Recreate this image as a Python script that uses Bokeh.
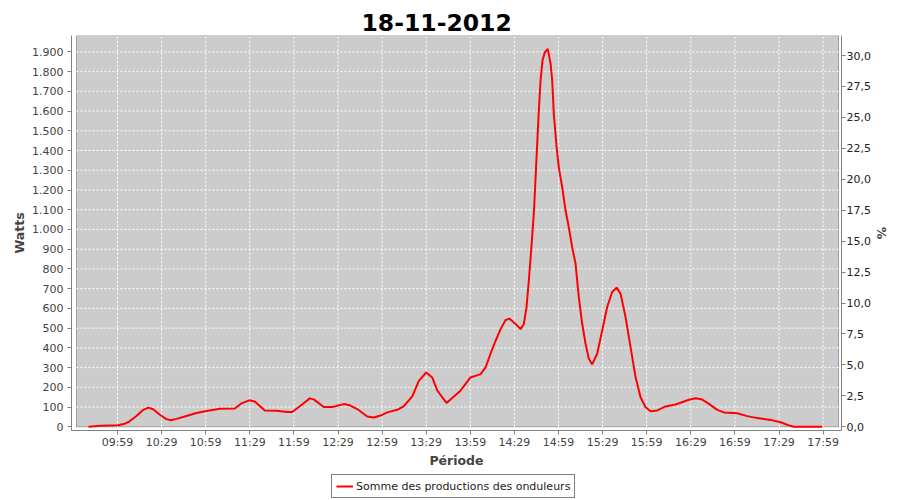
from bokeh.plotting import figure
from bokeh.layouts import column
from bokeh.models import (Range1d, LinearAxis, FixedTicker, Legend, LegendItem,
                          BoxAnnotation, ColumnDataSource)
from bokeh.embed import file_html
from bokeh.resources import INLINE

title_text = "18-11-2012"
series_name = "Somme des productions des onduleurs"
x_title = "Période"
y_title = "Watts"
y2_title = "%"

# time in minutes since midnight, production in watts
minutes = [579.3, 587.4, 599.5, 603.8, 607.2, 611.9, 616.5, 619.9, 623.3, 627.8,
           632.3, 635.3, 639.1, 645.9, 652.7, 659.5, 668.6, 678.8, 683.4, 688.6,
           692.4, 699.2, 707.6, 714.4, 717.8, 723.5, 729.8, 732.5, 739.3, 745.1,
           752.9, 756.3, 762.1, 768.9, 773.4, 777.9, 782.5, 789.3, 793.8, 799.5,
           804.0, 809.0, 813.1, 816.5, 822.8, 832.3, 839.1, 846.0, 849.4, 852.7,
           856.2, 859.6, 863.0, 865.7, 869.8, 873.2, 875.4, 877.2, 878.8, 880.4,
           882.2, 883.4, 884.5, 885.6, 886.8, 888.1, 889.7, 891.7, 893.6, 894.7,
           895.8, 897.7, 899.2, 901.5, 903.8, 906.0, 908.3, 910.6, 912.8, 915.1,
           917.4, 919.6, 921.9, 925.3, 928.7, 932.1, 935.5, 938.5, 941.2, 944.6,
           948.0, 951.4, 954.8, 958.2, 961.6, 966.2, 971.8, 978.6, 987.7, 992.2,
           996.8, 1001.3, 1007.0, 1011.5, 1020.6, 1027.4, 1034.2, 1043.3, 1050.1, 1055.7,
           1059.1, 1078.4]
watts = [0, 5, 8, 15, 28, 55, 86, 97, 89, 61,
         39, 33, 40, 55, 70, 80, 91, 93, 119, 134,
         128, 82, 81, 75, 75, 107, 144, 139, 100, 100,
         115, 111, 90, 52, 47, 57, 73, 86, 105, 154,
         233, 275, 250, 184, 121, 183, 250, 267, 301, 369,
         436, 495, 541, 548, 521, 495, 521, 605, 740, 894,
         1080, 1264, 1434, 1603, 1756, 1857, 1898, 1915, 1839, 1756,
         1585, 1417, 1315, 1214, 1096, 1011, 910, 826, 657, 522,
         421, 345, 316, 370, 488, 607, 683, 705, 675, 556,
         404, 252, 150, 99, 79, 83, 103, 113, 137, 145,
         138, 116, 86, 73, 69, 54, 44, 35, 23, 7,
         0, 0]

x_ticks = [599, 629, 659, 689, 719, 749, 779, 809, 839, 869, 899, 929, 959, 989, 1019, 1049, 1079]
x_tick_labels = ["09:59", "10:29", "10:59", "11:29", "11:59", "12:29", "12:59", "13:29", "13:59",
                 "14:29", "14:59", "15:29", "15:59", "16:29", "16:59", "17:29", "17:59"]
w_ticks = [0, 100, 200, 300, 400, 500, 600, 700, 800, 900, 1000, 1100, 1200, 1300, 1400,
           1500, 1600, 1700, 1800, 1900]
w_tick_labels = ["0", "100", "200", "300", "400", "500", "600", "700", "800", "900", "1.000",
                 "1.100", "1.200", "1.300", "1.400", "1.500", "1.600", "1.700", "1.800", "1.900"]
# percent axis expressed in tenths of a percent
pct_ticks = [0, 25, 50, 75, 100, 125, 150, 175, 200, 225, 250, 275, 300]
pct_tick_labels = ["0,0", "2,5", "5,0", "7,5", "10,0", "12,5", "15,0", "17,5", "20,0",
                   "22,5", "25,0", "27,5", "30,0"]

# plot-area extents (data units); axes sit slightly outside it
X0, X1 = 571.1, 1089.5
W_TOP = 1983
FONT = "DejaVu Sans"
GREY = "#808080"
TXT = "#444444"

p = figure(width=900, height=474, output_backend="svg", toolbar_location=None,
           x_range=Range1d(567.7, 1091.5), y_range=Range1d(-18.8, 1983),
           min_border_left=71, min_border_right=59, min_border_top=35, min_border_bottom=44,
           background_fill_color="white", border_fill_color="white")
p.outline_line_color = None
p.xgrid.grid_line_color = None
p.ygrid.grid_line_color = None
p.extra_y_ranges = {"pct": Range1d(-3.0, 316.2)}

p.title.text = title_text
p.title.text_font = FONT
p.title.text_font_size = "23.5px"
p.title.text_font_style = "bold"
p.title.text_color = "black"
p.title.align = "left"
p.title.vertical_align = "top"
p.title.offset = 290
p.title.standoff = 6

# plot area background
p.add_layout(BoxAnnotation(left=X0, right=X1, bottom=0, top=W_TOP,
                           fill_color="#cccccc", fill_alpha=1.0,
                           line_color="black", line_width=1, level="underlay"))

# grid lines from tick arrays
gx = ColumnDataSource(dict(x0=x_ticks, y0=[0] * len(x_ticks), x1=x_ticks, y1=[W_TOP] * len(x_ticks)))
p.segment(x0="x0", y0="y0", x1="x1", y1="y1", source=gx, line_color="white",
          line_width=1, line_dash="2 2")
gy_vals = [t for t in w_ticks if t > 0]
gy = ColumnDataSource(dict(x0=[X0] * len(gy_vals), y0=gy_vals, x1=[X1] * len(gy_vals), y1=gy_vals))
p.segment(x0="x0", y0="y0", x1="x1", y1="y1", source=gy, line_color="white",
          line_width=1, line_dash="2 2")

src = ColumnDataSource(dict(t=minutes, w=watts))
r = p.line("t", "w", source=src, line_color="red", line_width=2)

right = LinearAxis(y_range_name="pct")
p.add_layout(right, "right")


def style(ax, ticks, labels, title):
    ax.ticker = FixedTicker(ticks=ticks)
    ax.major_label_overrides = {t: l for t, l in zip(ticks, labels)}
    ax.axis_line_color = GREY
    ax.major_tick_line_color = GREY
    ax.major_tick_out = 4
    ax.major_tick_in = 0
    ax.minor_tick_line_color = None
    ax.major_label_text_font = FONT
    ax.major_label_text_font_size = "11px"
    ax.major_label_text_color = TXT
    ax.axis_label = title
    ax.axis_label_text_font = FONT
    ax.axis_label_text_font_size = "12.5px"
    ax.axis_label_text_font_style = "bold"
    ax.axis_label_text_color = TXT


style(p.xaxis[0], x_ticks, x_tick_labels, x_title)
style(p.yaxis[0], w_ticks, w_tick_labels, y_title)
style(right, pct_ticks, pct_tick_labels, y2_title)
p.xaxis[0].major_label_standoff = 1
p.xaxis[0].axis_label_standoff = 1
p.yaxis[0].major_label_standoff = 4
p.yaxis[0].axis_label_standoff = 2
right.major_label_standoff = 1
right.axis_label_standoff = 0
right.major_label_text_color = "#222222"

# legend strip below the chart (frame aligned with the main chart's frame)
p2 = figure(width=900, height=26, output_backend="svg", toolbar_location=None,
            x_range=Range1d(0, 1), y_range=Range1d(0, 1),
            x_axis_type=None, y_axis_type=None,
            min_border_left=0, min_border_right=0, min_border_top=0, min_border_bottom=0,
            background_fill_color="white", border_fill_color="white")
p2.outline_line_color = None
p2.xgrid.grid_line_color = None
p2.ygrid.grid_line_color = None
# same series, out of this strip's ranges: only its legend sample shows
lr = p2.line("t", "w", source=src, line_color="red", line_width=2)
legend = Legend(items=[LegendItem(label=series_name, renderers=[lr])],
                location=(260, 2), orientation="horizontal",
                border_line_color="black", border_line_width=1,
                background_fill_color="white", background_fill_alpha=1.0,
                label_text_font=FONT, label_text_font_size="11px",
                label_text_color="#222222",
                glyph_width=17, glyph_height=14, label_height=14,
                padding=4, margin=0, spacing=0, label_standoff=3)
p2.add_layout(legend, "center")

layout = column(p, p2, spacing=0)
open("out.html", "w").write(file_html(layout, INLINE))
